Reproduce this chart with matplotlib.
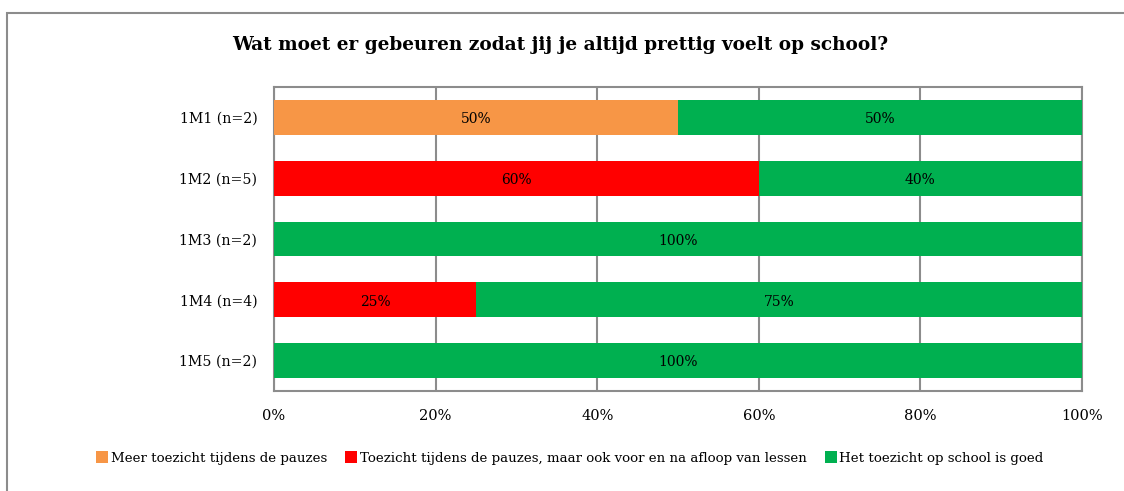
import matplotlib
matplotlib.use("Agg")
import matplotlib.pyplot as plt
from matplotlib.patches import Rectangle, Patch
import numpy as np

categories = ["1M1 (n=2)", "1M2 (n=5)", "1M3 (n=2)", "1M4 (n=4)", "1M5 (n=2)"]
series_names = ["Meer toezicht tijdens de pauzes",
                "Toezicht tijdens de pauzes, maar ook voor en na afloop van lessen",
                "Het toezicht op school is goed"]
meer = [50, 0, 0, 0, 0]
toezicht = [0, 60, 0, 25, 0]
goed = [50, 40, 100, 75, 100]
xticks = [0, 20, 40, 60, 80, 100]
xtick_labels = ["0%", "20%", "40%", "60%", "80%", "100%"]
colors = ["#F79646", "#FF0000", "#00B050"]
title = "Wat moet er gebeuren zodat jij je altijd prettig voelt op school?"

plt.rcParams['font.family'] = ['DejaVu Serif']

W, H = 1124, 491
fig = plt.figure(figsize=(W/100, H/100), dpi=100)
ax = fig.add_axes([274/W, 1-391/H, (1082-274)/W, (391-87)/H])

y = np.arange(len(categories))
left = np.zeros(len(categories))
for vals, col, name in zip([meer, toezicht, goed], colors, series_names):
    vals = np.array(vals, dtype=float)
    ax.barh(y, vals, left=left, height=0.57, color=col, label=name, zorder=3)
    for yi, (l, v) in enumerate(zip(left, vals)):
        if v > 0:
            ax.text(l + v/2, yi + 0.03, f"{int(v)}%", ha='center', va='center', fontsize=10, color='black', zorder=4)
    left += vals

ax.set_xlim(0, 100)
ax.set_ylim(len(categories)-0.5, -0.5)
ax.set_yticks(y)
ax.set_yticklabels(categories, fontsize=10.2)
ax.set_xticks(xticks)
ax.set_xticklabels(xtick_labels, fontsize=10.5)
ax.tick_params(axis='both', length=0)
ax.tick_params(axis='y', pad=12)
ax.tick_params(axis='x', pad=13)
ax.grid(axis='x', color='#8c8c8c', linewidth=1.5, zorder=0)
for s in ax.spines.values():
    s.set_color('#8c8c8c')
    s.set_linewidth(1.5)

fig.text(560/W, 1-45/H, title, ha='center', va='center', fontsize=13.3, fontweight='bold')

handles = [Patch(facecolor=c, edgecolor='none') for c in colors]
fig.legend(handles, series_names, loc='center', bbox_to_anchor=(570/W, 1-458/H), ncol=3,
           frameon=False, fontsize=9.6, handlelength=0.9, handleheight=0.9,
           handletextpad=0.2, columnspacing=1.35)

fig.patches.append(Rectangle((7/W, -0.05), 1.1, 1-13/H+0.05, transform=fig.transFigure,
                             fill=False, edgecolor='#8c8c8c', linewidth=1.5))

fig.savefig("out.png", dpi=100)
